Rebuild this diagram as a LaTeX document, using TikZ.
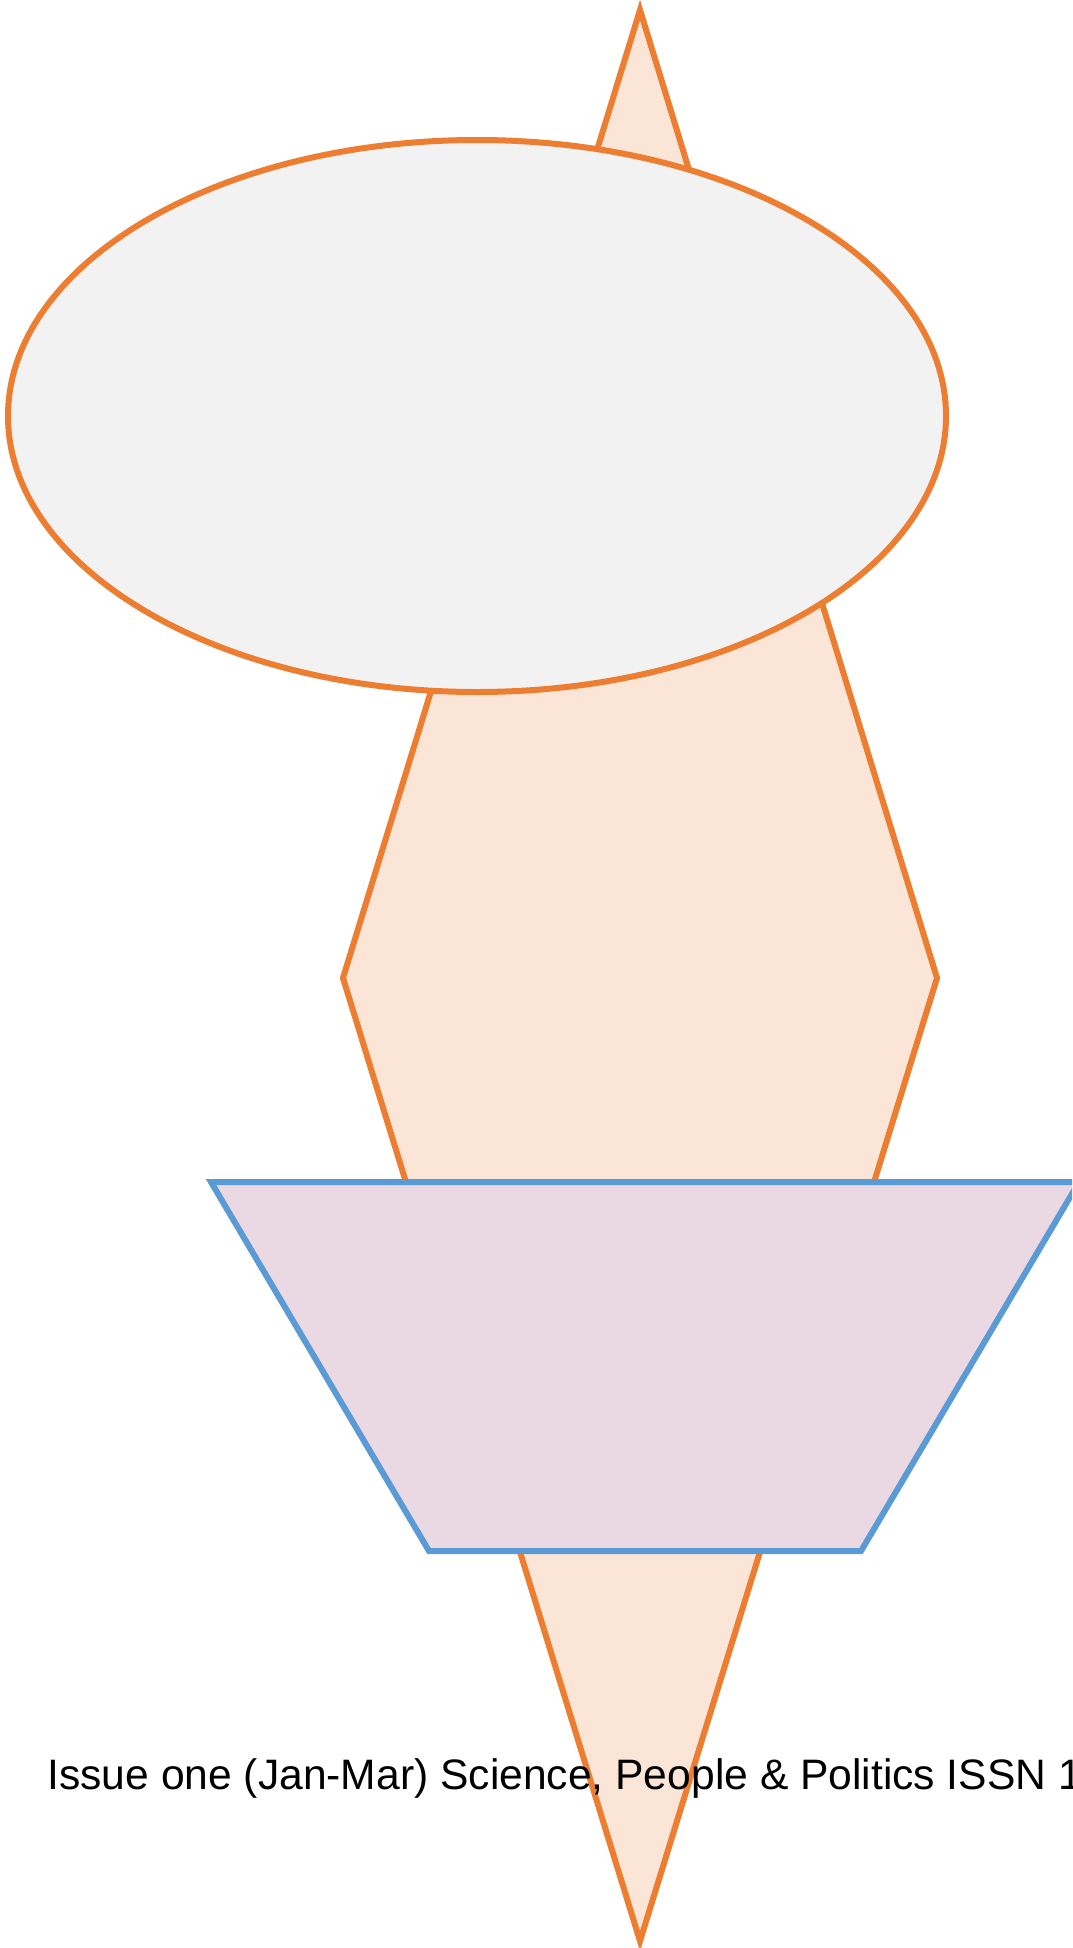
\documentclass[tikz,border=0pt]{standalone}
\usepackage{fontspec}
\setmainfont{Liberation Sans}
\definecolor{diamondline}{HTML}{ED7D31}
\definecolor{diamondfill}{HTML}{FBE5D6}
\definecolor{ovalfill}{HTML}{F2F2F2}
\definecolor{trapline}{HTML}{5B9BD5}
\definecolor{trapfill}{HTML}{EAD8E2}
\begin{document}
\begin{tikzpicture}[x=0.5pt,y=-0.5pt,line join=miter]

% page
\useasboundingbox (0,0) rectangle (1072,1948);
\clip (0,0) rectangle (1072,1948);

% long diamond
\filldraw[draw=diamondline, fill=diamondfill, line width=3pt]
    (640,10) -- (343,978) -- (640,1941) -- (937,978) -- cycle;

% grey oval
\filldraw[draw=diamondline, fill=ovalfill, line width=3pt]
    (477,416) ellipse (469 and 276);

% trapezoid
\filldraw[draw=trapline, fill=trapfill, line width=3pt]
    (211,1182) -- (1079,1182) -- (861,1551) -- (429,1551) -- cycle;

% caption
\node[anchor=base west, inner sep=0pt, font=\fontsize{21.3}{26}\selectfont] (issue) at (47,1789)
    {Issue one (Jan-Mar) Science, People \& Politics ISSN 1};

\end{tikzpicture}
\end{document}
